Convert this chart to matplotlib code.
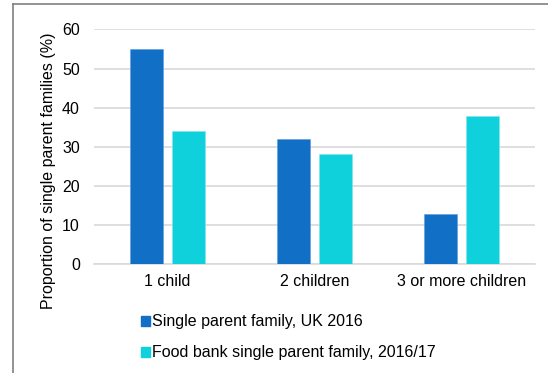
import numpy as np
import matplotlib.pyplot as plt
from matplotlib.lines import Line2D
from matplotlib.patches import Patch

plt.rcParams['font.family'] = ['Liberation Sans', 'DejaVu Sans']

# data
categories = ['1 child', '2 children', '3 or more children']
uk_2016 = [55, 32, 13]
food_bank = [34, 28.2, 37.8]
series_names = ['Single parent family, UK 2016',
                'Food bank single parent family, 2016/17']

blue = '#1170c6'
cyan = '#0ed1db'
fs = 11.5

fig = plt.figure(figsize=(5.48, 3.73), dpi=100)
ax = fig.add_axes([0.171, 0.2909, 0.8053, 0.6305])

x = np.arange(len(categories))
w = 0.224
off = 0.1435
ax.bar(x - off, uk_2016, w, color=blue, edgecolor='#5b9be0', linewidth=0.4, zorder=3)
ax.bar(x + off, food_bank, w, color=cyan, edgecolor='#7fe6ec', linewidth=0.4, zorder=3)

ax.set_xlim(-0.5, 2.5)
ax.set_ylim(0, 60)
ax.set_yticks(range(0, 61, 10))
ax.set_xticks(x)
ax.set_xticklabels(categories)
ax.tick_params(length=0, labelsize=fs, colors='black')
ax.tick_params(axis='x', pad=7)
ax.tick_params(axis='y', pad=10)

ax.grid(axis='y', color='#d9d9d9', linewidth=1.2, zorder=0)
for s in ['top', 'right', 'left']:
    ax.spines[s].set_visible(False)
ax.spines['bottom'].set_color('#d9d9d9')
ax.spines['bottom'].set_linewidth(1.2)

ax.set_ylabel('Proportion of single parent families (%)', fontsize=fs)
ax.yaxis.set_label_coords(-0.086, 0.397)

handles = [Patch(color=blue), Patch(color=cyan)]
fig.legend(handles, series_names, loc='upper left', bbox_to_anchor=(0.257, 0.157),
           frameon=False, fontsize=fs, handlelength=0.6, handleheight=0.6,
           handletextpad=0.13, labelspacing=1.0, borderaxespad=0, borderpad=0)

# outer frame lines on top and left
fig.add_artist(Line2D([12.5 / 548, 12.5 / 548], [0, 1 - 4 / 373],
                      transform=fig.transFigure, color='#808080', linewidth=1.2))
fig.add_artist(Line2D([12.5 / 548, 1], [1 - 4 / 373, 1 - 4 / 373],
                      transform=fig.transFigure, color='#808080', linewidth=1.2))

fig.savefig('out.png', dpi=100)
